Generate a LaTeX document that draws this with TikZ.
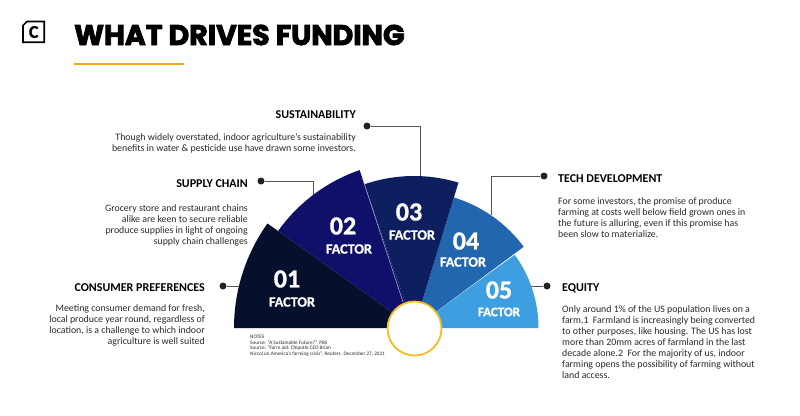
\documentclass[tikz,border=0pt]{standalone}
\usepackage{fontspec}
\setmainfont{Carlito}
\newfontfamily\titlef[FakeBold=3]{Poppins}
\newfontfamily\numf[BoldFeatures={FakeBold=1.2}]{Carlito}
\definecolor{cA}{HTML}{060F2C}
\definecolor{cB}{HTML}{10106A}
\definecolor{cC}{HTML}{0D1F5E}
\definecolor{cD}{HTML}{2266B0}
\definecolor{cE}{HTML}{3E9FE0}
\definecolor{hubgold}{RGB}{245,190,32}
\definecolor{rulegold}{RGB}{245,168,31}
\definecolor{ink}{HTML}{2A2A2A}
\tikzset{
  x=1pt,y=1pt,
  wedge/.style={draw=none},
  dotnode/.style={circle,fill=ink!80!black,inner sep=0pt,minimum size=7pt},
  conn/.style={draw=ink!80,line width=0.9pt},
  head/.style={font=\fontsize{12}{12}\selectfont\bfseries,text=black,inner sep=0pt},
  bodyr/.style={font=\fontsize{9.85}{11}\selectfont,text=ink,inner sep=0pt,align=right},
  bodyl/.style={font=\fontsize{9.85}{11}\selectfont,text=ink,inner sep=0pt,align=left},
  num/.style={font=\numf\fontsize{26}{26}\selectfont\bfseries,text=white,inner sep=0pt},
  fac/.style={font=\numf\fontsize{14.2}{15}\selectfont\bfseries,text=white,inner sep=0pt},
}
\begin{document}
\begin{tikzpicture}
\useasboundingbox (0,0) rectangle (800,-415);
\fill[white] (0,0) rectangle (800,-415);
\coordinate (C) at (414,-328);

% dots and connector ends
\node[dotnode] (d3) at (367,-126) {};
\node[dotnode] (d2) at (261,-181) {};
\node[dotnode] (d1) at (223,-286) {};
\node[dotnode] (d4) at (544,-176) {};
\node[dotnode] (d5) at (547,-286) {};
\coordinate (e3) at (420,-180);
\coordinate (e2) at (313,-200);
\coordinate (e1) at (240,-286);
\coordinate (e4) at (491,-215);
\coordinate (e5) at (525,-286);
\draw[conn] (d3) -| (e3);
\draw[conn] (d2) -| (e2);
\draw[conn] (d1) -- (e1);
\draw[conn] (d4) -| (e4);
\draw[conn] (d5) -- (e5);

% wedges
\fill[cE,wedge] (C) -- ++(36:124.5) arc (36:0:124.5) -- cycle;
\fill[cD,wedge] (C) -- ++(73:136.5) arc (73:36.5:136.5) -- cycle;
\fill[cC,wedge] (C) -- ++(109:152) arc (109:73:152) -- cycle;
\fill[cB,wedge] (C) -- ++(144.5:167) arc (144.5:109:167) -- cycle;
\draw[white!70!cB,line width=0.5pt] (362,-177) -- (403,-302);
\fill[cA,wedge] (C) -- ++(180:180) arc (180:144.5:180) -- cycle;

% hub
\node[circle,draw=hubgold,fill=white,line width=1.8pt,minimum size=54pt,inner sep=0pt] (hub) at (414.5,-328.5) {};

% logo
\draw[line width=1.6pt,black,line join=miter] (27,-21.5) -- (44.2,-21.5) -- (44.2,-42.2) -- (23,-42.2) -- (23,-25.5) -- cycle;
\node[inner sep=0pt,font=\numf\fontsize{18}{18}\selectfont\bfseries] (logoc) at (33.7,-32) {C};

% title
\node[anchor=base west,inner sep=0pt,font=\titlef\bfseries\fontsize{28.4}{28.4}\selectfont] (title) at (74,-45) {WHAT DRIVES FUNDING};

% numbers
\node[num] (n1) at (287,-279) {01};
\node[fac] (f1) at (292,-302) {FACTOR};
\node[num] (n2) at (343,-226) {02};
\node[fac] (f2) at (349,-249) {FACTOR};
\node[num] (n3) at (409,-212) {03};
\node[fac] (f3) at (412,-235) {FACTOR};
\node[num] (n4) at (466,-241) {04};
\node[fac] (f4) at (463,-262) {FACTOR};
\node[num] (n5) at (499,-290) {05};
\node[fac,font=\numf\fontsize{13}{14}\selectfont\bfseries] (f5) at (499,-312) {FACTOR};

% headings
\node[head,anchor=base east] (h3) at (356,-118) {SUSTAINABILITY};
\node[head,anchor=base east] (h2) at (248,-187) {SUPPLY CHAIN};
\node[head,anchor=base east] (h1) at (205,-291) {CONSUMER PREFERENCES};
\node[head,anchor=base west] (h4) at (558,-182) {TECH DEVELOPMENT};
\node[head,anchor=base west] (h5) at (562,-291) {EQUITY};

% bodies
\node[bodyr,anchor=base east] (b3) at (356,-151) {Though widely overstated, indoor agriculture's sustainability\\benefits in water \& pesticide use have drawn some investors.};
\node[bodyr,anchor=base east] (b2) at (248,-244) {Grocery store and restaurant chains\\alike are keen to secure reliable\\produce supplies in light of ongoing\\supply chain challenges};
\node[bodyr,anchor=base east] (b1) at (205,-344) {Meeting consumer demand for fresh,\\local produce year round, regardless of\\location, is a challenge to which indoor\\agriculture is well suited};
\node[bodyl,anchor=base west] (b4) at (558,-237) {For some investors, the promise of produce\\farming at costs well below field grown ones in\\the future is alluring, even if this promise has\\been slow to materialize.};
\node[bodyl,anchor=base west] (b5) at (562,-378) {Only around 1\% of the US population lives on a\\farm.1\ \ Farmland is increasingly being converted\\to other purposes, like housing. The US has lost\\more than 20mm acres of farmland in the last\\decade alone.2\ \ For the majority of us, indoor\\farming opens the possibility of farming without\\land access.};

% notes
\node[anchor=base west,inner sep=0pt,align=left,text=ink,font=\fontsize{5.2}{5.4}\selectfont] (notes) at (250,-355) {NOTES\\Source: ``A Sustainable Future?'', PBS\\Source: ``Farm aid: Chipotle CEO Brian\\Niccol on America's farming crisis'', Reuters. December 27, 2021};

% title underline, drawn last
\fill[rulegold] (74,-62.5) rectangle (184,-64.5);
\end{tikzpicture}
\end{document}
